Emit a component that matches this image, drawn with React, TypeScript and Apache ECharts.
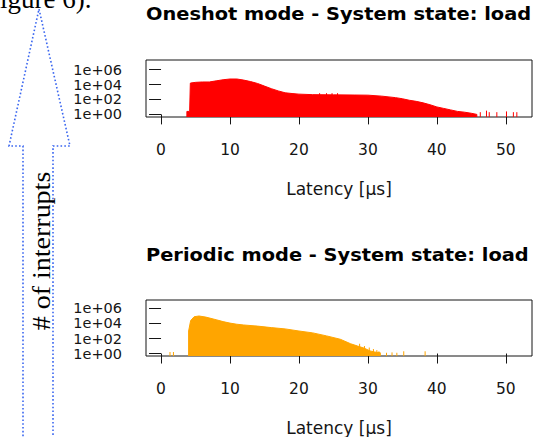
import React, { useEffect, useRef } from "react";
import * as echarts from "echarts";

// ---- texts ----
const oneshotTitle = "Oneshot mode - System state: load";
const periodicTitle = "Periodic mode - System state: load";
const xAxisTitle = "Latency [µs]";
const yAxisTitle = "# of interrupts";
const captionFragment = "igure 6).";

// ---- ticks ----
const latencyTicks = [0, 10, 20, 30, 40, 50];
const logCountTicks = [0, 2, 4, 6];
const countTickLabels = ["1e+00", "1e+02", "1e+04", "1e+06"];

// ---- Oneshot histogram outline: latency (µs) and log10(count) ----
const oneshotLatency = [3.75, 4.15, 4.25, 5, 6, 7, 8, 9, 10, 11, 12, 13, 14, 15, 16, 17, 18, 19, 20, 22, 25, 28, 30, 32, 34, 35, 36, 37, 38, 39, 40, 41, 42, 43, 44, 45, 45.8];
const oneshotLogCount = [0.4, 0.4, 4.2, 4.3, 4.35, 4.35, 4.5, 4.65, 4.75, 4.75, 4.6, 4.4, 4.15, 3.8, 3.45, 3.15, 2.9, 2.8, 2.72, 2.65, 2.62, 2.6, 2.58, 2.45, 2.25, 2.1, 1.9, 1.75, 1.55, 1.3, 1.0, 0.8, 0.6, 0.4, 0.3, 0.15, 0.0];
// isolated bins
const oneshotSpikeLatency = [23, 24, 24.8, 25.6, 46.3, 47.2, 47.6, 48.7, 50.1, 51.1, 51.6];
const oneshotSpikeLogCount = [2.85, 2.85, 2.85, 2.85, 0.3, 0.5, 0.3, 0.3, 0.4, 0.3, 0.3];

// ---- Periodic histogram outline ----
const periodicLatency = [4.0, 4.3, 4.8, 5.5, 6.5, 8, 9, 10, 11, 12, 14, 16, 18, 20, 22, 24, 26, 27.5, 28.5, 29.5, 30.3, 31, 31.8];
const periodicLogCount = [3.0, 4.4, 4.9, 5.0, 4.85, 4.5, 4.25, 4.05, 3.9, 3.8, 3.65, 3.45, 3.28, 3.0, 2.75, 2.35, 1.9, 1.3, 1.0, 0.7, 0.35, 0.2, 0.1];
const periodicSpikeLatency = [1.3, 1.8, 28.8, 29.5, 30.2, 30.8, 31.3, 31.6, 32.7, 33.5, 34.2, 35.2, 38.3];
const periodicSpikeLogCount = [0.2, 0.2, 1.3, 1.0, 0.8, 0.6, 0.45, 0.3, 0.1, 0.15, 0.1, 0.3, 0.3];

const FONT = "DejaVu Sans";
const INK = "#151515";

type Panel = {
  top: number;
  height: number;
  yMin: number;
  yMax: number;
  color: string;
  latency: number[];
  logCount: number[];
  spikeLatency: number[];
  spikeLogCount: number[];
};

const panels: Panel[] = [
  {
    top: 60, height: 57, yMin: -0.35, yMax: 7.3, color: "#ff0000",
    latency: oneshotLatency, logCount: oneshotLogCount,
    spikeLatency: oneshotSpikeLatency, spikeLogCount: oneshotSpikeLogCount,
  },
  {
    top: 300, height: 56, yMin: -0.33, yMax: 7.13, color: "#ffa500",
    latency: periodicLatency, logCount: periodicLogCount,
    spikeLatency: periodicSpikeLatency, spikeLogCount: periodicSpikeLogCount,
  },
];

function buildOption() {
  const grid: any[] = [];
  const xAxis: any[] = [];
  const yAxis: any[] = [];
  const series: any[] = [];
  panels.forEach((p, i) => {
    grid.push({
      left: 146, top: p.top, width: 386, height: p.height,
      show: true, borderColor: INK, borderWidth: 1, backgroundColor: "transparent",
      outerBoundsMode: "none",
    });
    xAxis.push({
      type: "value", gridIndex: i, min: -2.18, max: 53.8,
      splitLine: { show: false },
      axisLine: { show: false },
      axisTick: { show: true, length: 10, customValues: latencyTicks, lineStyle: { color: INK } },
      axisLabel: {
        customValues: latencyTicks, margin: 25, fontSize: 15.5, fontFamily: FONT, color: INK,
        showMinLabel: true, showMaxLabel: true, hideOverlap: false,
      },
      name: xAxisTitle, nameLocation: "middle", nameGap: 63,
      nameTextStyle: { fontSize: 17, fontFamily: FONT, color: INK },
    });
    yAxis.push({
      type: "value", gridIndex: i, min: p.yMin, max: p.yMax,
      splitLine: { show: false },
      axisLine: { show: false },
      axisTick: { show: true, length: 12, customValues: logCountTicks, lineStyle: { color: INK } },
      axisLabel: {
        customValues: logCountTicks, margin: 24, fontSize: 14.5, fontFamily: FONT, color: INK,
        showMinLabel: true, showMaxLabel: true, hideOverlap: false, lineHeight: 13,
        formatter: (v: number) => {
          const k = logCountTicks.indexOf(Math.round(v));
          return k >= 0 ? countTickLabels[k] : "";
        },
      },
    });
    const outline: number[][] = [[p.latency[0], p.yMin]];
    p.latency.forEach((x, j) => outline.push([x, p.logCount[j]]));
    outline.push([p.latency[p.latency.length - 1], p.yMin]);
    series.push({
      type: "line", xAxisIndex: i, yAxisIndex: i, data: outline,
      symbol: "none", silent: true,
      lineStyle: { color: p.color, width: 1 },
      itemStyle: { color: p.color },
      areaStyle: { color: p.color, opacity: 1, origin: "start" },
    });
    const yMin = p.yMin;
    const color = p.color;
    series.push({
      type: "custom", xAxisIndex: i, yAxisIndex: i, silent: true,
      data: p.spikeLatency.map((x, j) => [x, p.spikeLogCount[j]]),
      renderItem: (_params: any, api: any) => {
        const x = api.value(0);
        const top = api.coord([x, api.value(1)]);
        const bottom = api.coord([x, yMin]);
        return {
          type: "line",
          shape: { x1: top[0], y1: top[1], x2: bottom[0], y2: bottom[1] },
          style: { stroke: color, lineWidth: 1 },
        };
      },
    });
  });

  const arrowBlue = "#3a66f0";
  const graphic: any[] = [
    {
      type: "polyline",
      shape: { points: [[23, 440], [23, 146], [9, 146], [39, 9], [70, 146], [53, 146], [53, 440]] },
      style: { stroke: arrowBlue, lineWidth: 1.6, lineDash: [1.6, 2.2], fill: null },
      silent: true,
    },
    {
      type: "text", x: 42, y: 251, rotation: Math.PI / 2, scaleX: 1.12,
      style: { text: yAxisTitle, font: "25px 'Liberation Serif'", fill: "#000", align: "center", verticalAlign: "middle" },
    },
    {
      type: "text", x: 0, y: -1,
      style: { text: captionFragment, font: "27px 'Liberation Serif'", fill: "#000", align: "left", verticalAlign: "middle" },
    },
    {
      type: "text", x: 146, y: 14, scaleX: 1.14,
      style: { text: oneshotTitle, font: `bold 17px '${FONT}'`, fill: "#000", align: "left", verticalAlign: "middle" },
    },
    {
      type: "text", x: 146, y: 255, scaleX: 1.14,
      style: { text: periodicTitle, font: `bold 17px '${FONT}'`, fill: "#000", align: "left", verticalAlign: "middle" },
    },
  ];

  return { animation: false, backgroundColor: "#ffffff", grid, xAxis, yAxis, series, graphic };
}

export default function App() {
  const ref = useRef<HTMLDivElement>(null);
  useEffect(() => {
    if (!ref.current) return;
    const chart = echarts.init(ref.current, undefined, { renderer: "svg" });
    chart.setOption(buildOption() as any);
    return () => chart.dispose();
  }, []);
  return (
    <div
      ref={ref}
      style={{ position: "fixed", left: 0, top: 0, width: 533, height: 437, background: "#fff" }}
    />
  );
}
